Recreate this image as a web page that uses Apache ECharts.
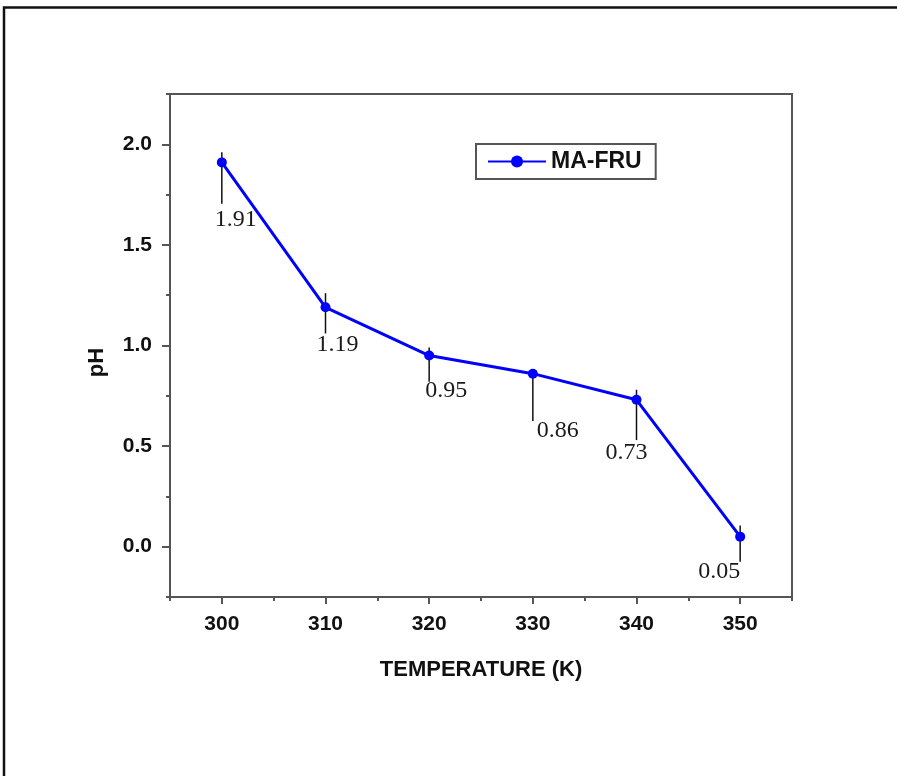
<!DOCTYPE html>
<html>
<head>
<meta charset="utf-8">
<title>pH vs temperature</title>
<script src="https://cdn.jsdelivr.net/npm/echarts@6/dist/echarts.min.js"></script>
<style>
	html, body { margin: 0; padding: 0; background: #fff; }
	#chart { width: 897px; height: 776px; }
</style>
</head>
<body>
<div id="chart"></div>
<script>
// data
const temperatures = [300, 310, 320, 330, 340, 350];
const phValues = [1.91, 1.19, 0.95, 0.86, 0.73, 0.05];
// error bar ends (top / bottom), as drawn
const errTop = [1.96, 1.26, 0.99, 0.875, 0.78, 0.105];
const errBottom = [1.705, 1.06, 0.82, 0.625, 0.53, -0.075];

// tick values
const xTicks = [300, 310, 320, 330, 340, 350];
const xMinorTicks = [295, 305, 315, 325, 335, 345, 355];
const yTicks = [0, 0.5, 1, 1.5, 2];
const yMinorTicks = [-0.25, 0.25, 0.75, 1.25, 1.75, 2.25];

// where each value label sits relative to its point (style)
const labelOffsets = [[14, 57], [12, 37], [17, 35], [25, 57], [-10, 53], [-21, 35]];

const axisColor = "#555";
const labelFont = {
	color: "#111",
	fontFamily: "Liberation Sans, Arial",
	fontWeight: "bold",
	fontSize: 21,
};

const chart = echarts.init(document.getElementById("chart"));

chart.setOption({
	animation: false,
	backgroundColor: "#fff",
	graphic: [
		{
			// outer frame (top + left only)
			type: "polyline",
			shape: { points: [[4, 776], [4, 7.5], [897, 7.5]] },
			style: { stroke: "#111", lineWidth: 2.5, fill: null },
		},
	],
	grid: {
		left: 170,
		right: 105,
		top: 94,
		bottom: 179,
		show: true,
		borderColor: axisColor,
		borderWidth: 2,
	},
	legend: {
		left: 476,
		top: 144,
		data: ["MA-FRU"],
		borderColor: axisColor,
		borderWidth: 2,
		borderRadius: 0,
		padding: [6, 14, 6, 11],
		itemWidth: 58,
		itemHeight: 15,
		textStyle: {
			color: "#111",
			fontFamily: "Liberation Sans, Arial",
			fontWeight: "bold",
			fontSize: 23,
		},
	},
	xAxis: [
		{
			type: "value",
			min: 295,
			max: 355,
			name: "TEMPERATURE (K)",
			nameLocation: "middle",
			nameGap: 62,
			nameTextStyle: Object.assign({}, labelFont, { fontSize: 22 }),
			axisLine: { show: true, onZero: false, lineStyle: { color: axisColor, width: 2 } },
			axisTick: {
				show: true,
				customValues: xTicks,
				length: 7,
				lineStyle: { color: axisColor, width: 2 },
			},
			axisLabel: {
				customValues: xTicks,
				margin: 17,
				...labelFont,
			},
			splitLine: { show: false },
		},
		{
			// minor ticks
			type: "value",
			position: "bottom",
			min: 295,
			max: 355,
			axisLine: { show: false, onZero: false },
			axisTick: {
				show: true,
				customValues: xMinorTicks,
				length: 4,
				lineStyle: { color: axisColor, width: 2 },
			},
			axisLabel: { show: false },
			splitLine: { show: false },
		},
	],
	yAxis: [
		{
			type: "value",
			min: -0.25,
			max: 2.25,
			name: "pH",
			nameLocation: "middle",
			nameGap: 62,
			nameTextStyle: Object.assign({}, labelFont, {
				fontSize: 22,
				padding: [0, 34, 0, 0],
			}),
			axisLine: { show: true, onZero: false, lineStyle: { color: axisColor, width: 2 } },
			axisTick: {
				show: true,
				customValues: yTicks,
				length: 8,
				lineStyle: { color: axisColor, width: 2 },
			},
			axisLabel: {
				customValues: yTicks,
				margin: 18,
				formatter: (v) => v.toFixed(1),
				...labelFont,
			},
			splitLine: { show: false },
		},
		{
			type: "value",
			position: "left",
			min: -0.25,
			max: 2.25,
			axisLine: { show: false, onZero: false },
			axisTick: {
				show: true,
				customValues: yMinorTicks,
				length: 4,
				lineStyle: { color: axisColor, width: 2 },
			},
			axisLabel: { show: false },
			splitLine: { show: false },
		},
	],
	series: [
		{
			name: "error",
			type: "custom",
			z: 1,
			data: temperatures.map((t, i) => [t, errTop[i], errBottom[i]]),
			encode: { x: 0, y: [1, 2] },
			renderItem: (params, api) => {
				const top = api.coord([api.value(0), api.value(1)]);
				const bottom = api.coord([api.value(0), api.value(2)]);
				return {
					type: "line",
					shape: { x1: top[0], y1: top[1], x2: bottom[0], y2: bottom[1] },
					style: { stroke: "#111", lineWidth: 1.5 },
				};
			},
		},
		{
			name: "MA-FRU",
			type: "line",
			z: 2,
			data: temperatures.map((t, i) => ({
				value: [t, phValues[i]],
				label: { offset: labelOffsets[i] },
			})),
			symbol: "circle",
			symbolSize: 10,
			lineStyle: { color: "#0000ff", width: 3 },
			itemStyle: { color: "#0000ff" },
			label: {
				show: true,
				position: "inside",
				align: "center",
				verticalAlign: "middle",
				formatter: (p) => phValues[p.dataIndex].toFixed(2),
				color: "#1a1a1a",
				fontFamily: "Liberation Serif, Times New Roman",
				fontSize: 24,
			},
		},
	],
});
</script>
</body>
</html>
